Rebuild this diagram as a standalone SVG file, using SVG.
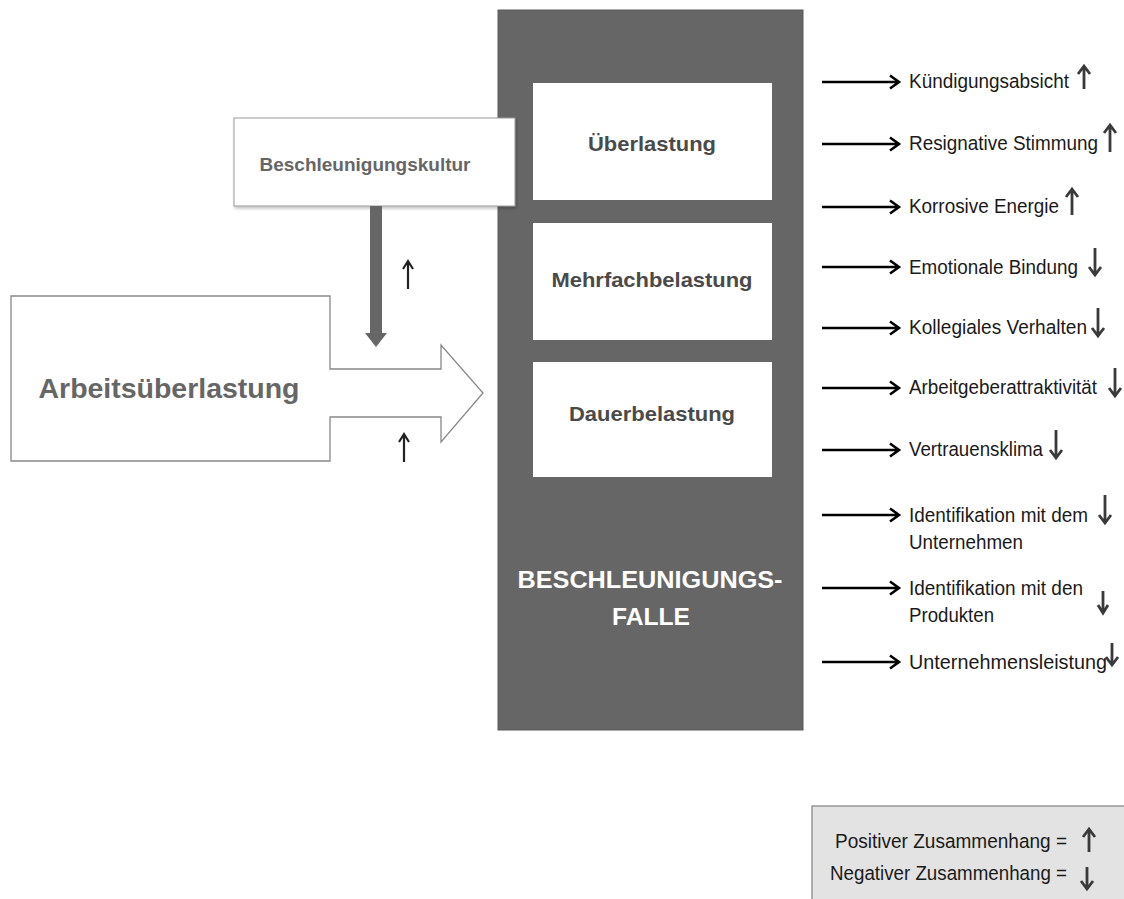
<svg xmlns="http://www.w3.org/2000/svg" width="1124" height="899" viewBox="0 0 1124 899">
<defs>
<style>
.lbl{font-family:"Liberation Sans",Arial,sans-serif;font-size:20.5px;fill:#1a1a1a}
.box{font-family:"Liberation Sans",Arial,sans-serif;font-weight:bold;fill:#4a4a4a;text-anchor:middle}
.conn{stroke:#000;stroke-width:2.6;fill:none}
.ind{stroke:#3a3a3a;stroke-width:2.8;fill:none;stroke-linecap:butt;stroke-linejoin:miter}
.sm{stroke:#222;stroke-width:2.2;fill:none}
</style>
<filter id="sh" x="-5%" y="-5%" width="115%" height="125%"><feDropShadow dx="1" dy="2" stdDeviation="1.5" flood-color="#000" flood-opacity="0.25"/></filter>
</defs>
<rect width="1124" height="899" fill="#fff"/>

<g id="falle">
<rect x="498" y="10" width="305" height="720" fill="#666" stroke="#5a5a5a" stroke-width="1"/>
<text class="box" x="650" y="588" font-size="24" style="fill:#fff" textLength="265" lengthAdjust="spacingAndGlyphs">BESCHLEUNIGUNGS-</text>
<text class="box" x="651" y="625" font-size="24" style="fill:#fff" textLength="78" lengthAdjust="spacingAndGlyphs">FALLE</text>
</g>
<g id="ueberlastung">
<rect x="533" y="83" width="239" height="117" fill="#fff"/>
<text class="box" x="652" y="151" font-size="21" textLength="128" lengthAdjust="spacingAndGlyphs">Überlastung</text>
</g>
<g id="mehrfachbelastung">
<rect x="533" y="223" width="239" height="117" fill="#fff"/>
<text class="box" x="652" y="287" font-size="21" textLength="201" lengthAdjust="spacingAndGlyphs">Mehrfachbelastung</text>
</g>
<g id="dauerbelastung">
<rect x="533" y="362" width="239" height="115" fill="#fff"/>
<text class="box" x="652" y="421" font-size="21" textLength="166" lengthAdjust="spacingAndGlyphs">Dauerbelastung</text>
</g>

<g id="beschleunigungskultur">
<rect x="234" y="118" width="281" height="88" fill="#fff" stroke="#999" stroke-width="1" filter="url(#sh)"/>
<text class="box" x="365" y="171" font-size="17.5" style="fill:#666" textLength="211" lengthAdjust="spacingAndGlyphs">Beschleunigungskultur</text>
</g>

<g id="arbeitsueberlastung">
<polygon points="11,296 330,296 330,369 441,369 441,345 483,393 441,442 441,417 330,417 330,461 11,461" fill="#fff" stroke="#888" stroke-width="1.3"/>
<text class="box" x="169" y="398" font-size="27" style="fill:#666" textLength="261" lengthAdjust="spacingAndGlyphs">Arbeitsüberlastung</text>
</g>

<g id="connectors">
<polygon points="370,206 382,206 382,333 387,333 376,347 365,333 370,333" fill="#666"/>
<path class="sm" d="M408 289 V262 M403 269 L408 261 L413 269"/>
<path class="sm" d="M404 462 V435 M399 442 L404 434 L409 442"/>
<g class="conn">
<path d="M822 82 H898 M890 75.5 L899 82 L890 88.5"/>
<path d="M822 144 H898 M890 137.5 L899 144 L890 150.5"/>
<path d="M822 207 H898 M890 200.5 L899 207 L890 213.5"/>
<path d="M822 267 H898 M890 260.5 L899 267 L890 273.5"/>
<path d="M822 328 H898 M890 321.5 L899 328 L890 334.5"/>
<path d="M822 388 H898 M890 381.5 L899 388 L890 394.5"/>
<path d="M822 450 H898 M890 443.5 L899 450 L890 456.5"/>
<path d="M822 515 H898 M890 508.5 L899 515 L890 521.5"/>
<path d="M822 588 H898 M890 581.5 L899 588 L890 594.5"/>
<path d="M822 662 H898 M890 655.5 L899 662 L890 668.5"/>
</g>
</g>

<g id="outcomes">
<text class="lbl" x="909" y="88" textLength="160" lengthAdjust="spacingAndGlyphs">Kündigungsabsicht</text>
<text class="lbl" x="909" y="150" textLength="189" lengthAdjust="spacingAndGlyphs">Resignative Stimmung</text>
<text class="lbl" x="909" y="213" textLength="150" lengthAdjust="spacingAndGlyphs">Korrosive Energie</text>
<text class="lbl" x="909" y="274" textLength="169" lengthAdjust="spacingAndGlyphs">Emotionale Bindung</text>
<text class="lbl" x="909" y="334" textLength="178" lengthAdjust="spacingAndGlyphs">Kollegiales Verhalten</text>
<text class="lbl" x="909" y="394" textLength="188" lengthAdjust="spacingAndGlyphs">Arbeitgeberattraktivität</text>
<text class="lbl" x="909" y="456" textLength="134" lengthAdjust="spacingAndGlyphs">Vertrauensklima</text>
<text class="lbl" x="909" y="522" textLength="179" lengthAdjust="spacingAndGlyphs">Identifikation mit dem</text>
<text class="lbl" x="909" y="549" textLength="114" lengthAdjust="spacingAndGlyphs">Unternehmen</text>
<text class="lbl" x="909" y="595" textLength="174" lengthAdjust="spacingAndGlyphs">Identifikation mit den</text>
<text class="lbl" x="909" y="622" textLength="85" lengthAdjust="spacingAndGlyphs">Produkten</text>
<text class="lbl" x="909" y="669" textLength="198" lengthAdjust="spacingAndGlyphs">Unternehmensleistung</text>
</g>

<g id="indicators" class="ind">
<path d="M1084 89 V67 M1078 74 L1084 66 L1090 74"/>
<path d="M1110 152 V126 M1104 133 L1110 125 L1116 133"/>
<path d="M1072 215 V190 M1066 197 L1072 189 L1078 197"/>
<path d="M1095 248 V274 M1089 267 L1095 275 L1101 267"/>
<path d="M1098 308 V335 M1092 328 L1098 336 L1104 328"/>
<path d="M1115 368 V395 M1109 388 L1115 396 L1121 388"/>
<path d="M1056 430 V457 M1050 450 L1056 458 L1062 450"/>
<path d="M1105 495 V522 M1099 515 L1105 523 L1111 515"/>
<path d="M1103 591 V612 M1098 605 L1103 613 L1108 605"/>
<path d="M1112 643 V664 M1106 657 L1112 665 L1118 657"/>
</g>

<g id="legend">
<rect x="812" y="806" width="320" height="100" fill="#e3e3e3" stroke="#8a8a8a" stroke-width="1.3"/>
<text class="lbl" x="835" y="848" textLength="232" lengthAdjust="spacingAndGlyphs">Positiver Zusammenhang =</text>
<text class="lbl" x="830" y="880" textLength="237" lengthAdjust="spacingAndGlyphs">Negativer Zusammenhang =</text>
<path class="ind" d="M1089 852 V830 M1083 837 L1089 829 L1095 837"/>
<path class="ind" d="M1087 867 V888 M1081 881 L1087 889 L1093 881"/>
</g>
</svg>
